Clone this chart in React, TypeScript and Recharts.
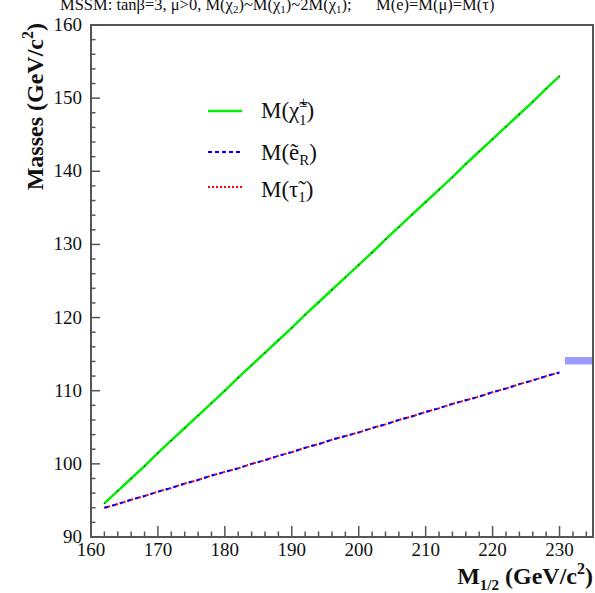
import React from 'react';
import { LineChart, Line, XAxis, YAxis, ReferenceArea } from 'recharts';

// M_1/2 scan points (GeV/c^2)
const m12 = [162, 164, 166, 168, 170, 172, 174, 176, 178, 180, 182, 184, 186, 188, 190, 192, 194, 196, 198, 200, 202, 204, 206, 208, 210, 212, 214, 216, 218, 220, 222, 224, 226, 228, 230];

const chargino = [94.6, 96.3, 98.0, 99.7, 101.5, 103.2, 104.9, 106.6, 108.3, 110.0, 111.8, 113.5, 115.2, 116.9, 118.6, 120.4, 122.1, 123.8, 125.5, 127.2, 128.9, 130.7, 132.4, 134.1, 135.8, 137.5, 139.2, 141.0, 142.7, 144.4, 146.1, 147.8, 149.5, 151.3, 153.0];

const selectronR = [94.0, 94.5, 95.1, 95.6, 96.2, 96.7, 97.3, 97.8, 98.4, 98.9, 99.4, 100.0, 100.5, 101.1, 101.6, 102.2, 102.7, 103.3, 103.8, 104.3, 104.9, 105.4, 106.0, 106.5, 107.1, 107.6, 108.2, 108.7, 109.2, 109.8, 110.3, 110.9, 111.4, 112.0, 112.5];

const stau1 = [94.0, 94.5, 95.1, 95.6, 96.2, 96.7, 97.3, 97.8, 98.4, 98.9, 99.4, 100.0, 100.5, 101.1, 101.6, 102.2, 102.7, 103.3, 103.8, 104.3, 104.9, 105.4, 106.0, 106.5, 107.1, 107.6, 108.2, 108.7, 109.2, 109.8, 110.3, 110.9, 111.4, 112.0, 112.5];

const xMajor = [160, 170, 180, 190, 200, 210, 220, 230];
const yMajor = [90, 100, 110, 120, 130, 140, 150, 160];

// limit band on the right edge
const bandX = [230.8, 235];
const bandY = [113.6, 114.6];

const data = m12.map((m, i) => ({ m, chi: chargino[i], eR: selectronR[i], tau: stau1[i] }));

const xTicks: number[] = [];
for (let v = 160; v <= 234; v += 2) xTicks.push(v);
const yTicks: number[] = [];
for (let v = 90; v <= 160; v += 2) yTicks.push(v);

const FONT = '"Liberation Serif", "DejaVu Serif", serif';
const AXIS = '#555';

const XTick = (props: any) => {
  const { x, y, payload } = props;
  const major = xMajor.includes(payload.value);
  return (
    <g>
      <line x1={x} y1={y} x2={x} y2={y - (major ? 11 : 5.5)} stroke={AXIS} strokeWidth={1.5} />
      {major && (
        <text x={x} y={y + 19} textAnchor="middle" fontFamily={FONT} fontSize={19} fill="#111">
          {payload.value}
        </text>
      )}
    </g>
  );
};

const YTick = (props: any) => {
  const { x, y, payload } = props;
  const major = yMajor.includes(payload.value);
  return (
    <g>
      <line x1={x} y1={y} x2={x + (major ? 9 : 4.5)} y2={y} stroke={AXIS} strokeWidth={1.5} />
      {major && (
        <text x={x - 9} y={y + 6} textAnchor="end" fontFamily={FONT} fontSize={19} fill="#111">
          {payload.value}
        </text>
      )}
    </g>
  );
};

export default function App() {
  return (
    <div style={{ position: 'absolute', left: 0, top: 0, width: 595, height: 593, overflow: 'hidden', background: '#fff' }}>
      <LineChart width={595} height={593} data={data} margin={{ top: 25, right: 2, bottom: 0, left: 0 }}>
        <XAxis
          dataKey="m"
          type="number"
          domain={[160, 235]}
          ticks={xTicks}
          interval={0}
          height={56}
          tickSize={0}
          tickMargin={0}
          tickLine={false}
          axisLine={false}
          tick={<XTick />}
        />
        <YAxis
          type="number"
          domain={[90, 160]}
          ticks={yTicks}
          interval={0}
          width={91}
          tickSize={0}
          tickMargin={0}
          tickLine={false}
          axisLine={false}
          tick={<YTick />}
        />
        <ReferenceArea x1={bandX[0]} x2={bandX[1]} y1={bandY[0]} y2={bandY[1]} fill="#9999ff" fillOpacity={1} stroke="none" />
        <ReferenceArea x1={160} x2={235} y1={90} y2={160} fill="none" stroke={AXIS} strokeWidth={2} />
        <Line dataKey="chi" stroke="#00ee00" strokeWidth={2.5} dot={{ r: 0.7, fill: '#222', stroke: 'none' }} isAnimationActive={false} />
        <Line dataKey="tau" stroke="#ff0000" strokeWidth={2} strokeDasharray="2 2" dot={false} isAnimationActive={false} />
        <Line dataKey="eR" stroke="#0000ff" strokeWidth={2} strokeDasharray="4 4" dot={false} isAnimationActive={false} />
      </LineChart>
      <svg width={595} height={593} style={{ position: 'absolute', left: 0, top: 0, pointerEvents: 'none' }}>
        <g fontFamily={FONT} fill="#111">
          <text x={60} y={10} fontSize={16.5}>
            MSSM: tanβ=3, μ&gt;0, M(χ<tspan fontSize={11} dy={3}>2</tspan><tspan dy={-3}>)~M(χ</tspan>
            <tspan fontSize={11} dy={3}>1</tspan><tspan dy={-3}>)~2M(χ</tspan><tspan fontSize={11} dy={3}>1</tspan>
            <tspan dy={-3}>);</tspan>
          </text>
          <text x={376} y={10} fontSize={16.5}>M(e)=M(μ)=M(τ)</text>

          <text transform="translate(43,23) rotate(-90)" textAnchor="end" fontSize={24} fontWeight="bold">
            Masses (GeV/c<tspan fontSize={16} dy={-10}>2</tspan><tspan dy={10}>)</tspan>
          </text>
          <text x={593} y={584} textAnchor="end" fontSize={24} fontWeight="bold">
            M<tspan fontSize={15} dy={6}>1/2</tspan><tspan dy={-6}> (GeV/c</tspan><tspan fontSize={16} dy={-10}>2</tspan>
            <tspan dy={10}>)</tspan>
          </text>

          <line x1={208} y1={111} x2={242} y2={111} stroke="#00ee00" strokeWidth={2.5} />
          <line x1={208} y1={152} x2={242} y2={152} stroke="#0000ff" strokeWidth={2} strokeDasharray="4 3" />
          <line x1={208} y1={187} x2={242} y2={187} stroke="#ff0000" strokeWidth={2} strokeDasharray="2 2" />

          <text x={261} y={118} fontSize={23}>
            M(χ̃<tspan fontSize={15} dy={-11}>±</tspan><tspan fontSize={15} dx={-8.5} dy={18}>1</tspan><tspan dy={-7}>)</tspan>
          </text>
          <text x={261} y={160} fontSize={23}>
            M(ẽ<tspan fontSize={15} dy={5}>R</tspan><tspan dy={-5}>)</tspan>
          </text>
          <text x={261} y={197} fontSize={23}>
            M(τ̃<tspan fontSize={15} dy={5}>1</tspan><tspan dy={-5}>)</tspan>
          </text>
        </g>
      </svg>
    </div>
  );
}
